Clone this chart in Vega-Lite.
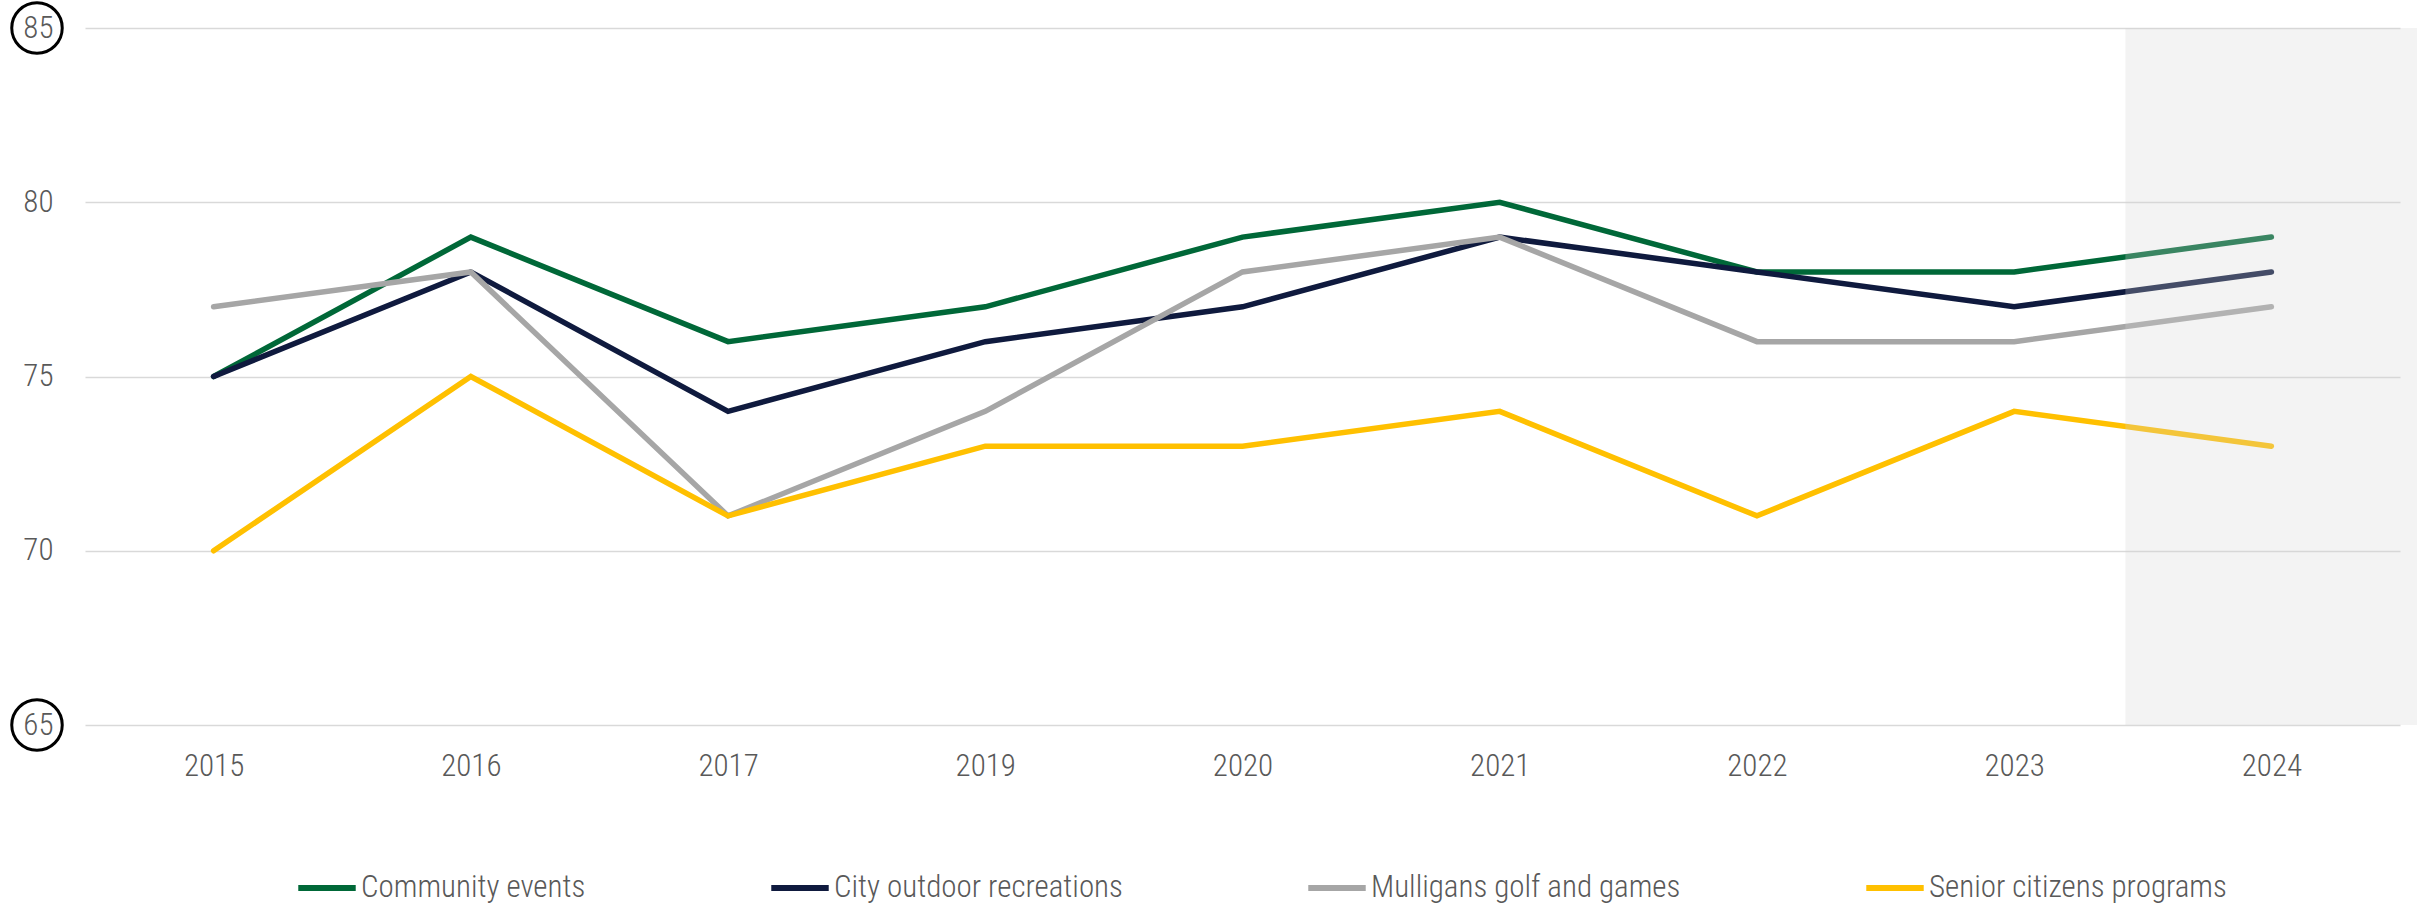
{
  "$schema": "https://vega.github.io/schema/vega-lite/v6.json",
  "autosize": "none",
  "width": 2315,
  "height": 697,
  "padding": {"left": 85, "top": 28, "right": 17, "bottom": 183},
  "background": "white",
  "config": {
    "view": {"stroke": null},
    "font": "'Roboto Condensed', 'Noto Sans Condensed', 'DejaVu Sans Condensed', Roboto, sans-serif",
    "axis": {"labelFont": "'Roboto Condensed', 'Noto Sans Condensed', 'DejaVu Sans Condensed', Roboto, sans-serif", "labelColor": "#595959", "labelFontSize": 31, "labelFontWeight": 300},
    "legend": {"labelFont": "'Roboto Condensed', 'Noto Sans Condensed', 'DejaVu Sans Condensed', Roboto, sans-serif", "labelFontWeight": 300}
  },
  "datasets": {
    "series": [
      {"year": "2015", "series": "Community events", "value": 75},
      {"year": "2016", "series": "Community events", "value": 79},
      {"year": "2017", "series": "Community events", "value": 76},
      {"year": "2019", "series": "Community events", "value": 77},
      {"year": "2020", "series": "Community events", "value": 79},
      {"year": "2021", "series": "Community events", "value": 80},
      {"year": "2022", "series": "Community events", "value": 78},
      {"year": "2023", "series": "Community events", "value": 78},
      {"year": "2024", "series": "Community events", "value": 79},
      {"year": "2015", "series": "City outdoor recreations", "value": 75},
      {"year": "2016", "series": "City outdoor recreations", "value": 78},
      {"year": "2017", "series": "City outdoor recreations", "value": 74},
      {"year": "2019", "series": "City outdoor recreations", "value": 76},
      {"year": "2020", "series": "City outdoor recreations", "value": 77},
      {"year": "2021", "series": "City outdoor recreations", "value": 79},
      {"year": "2022", "series": "City outdoor recreations", "value": 78},
      {"year": "2023", "series": "City outdoor recreations", "value": 77},
      {"year": "2024", "series": "City outdoor recreations", "value": 78},
      {"year": "2015", "series": "Mulligans golf and games", "value": 77},
      {"year": "2016", "series": "Mulligans golf and games", "value": 78},
      {"year": "2017", "series": "Mulligans golf and games", "value": 71},
      {"year": "2019", "series": "Mulligans golf and games", "value": 74},
      {"year": "2020", "series": "Mulligans golf and games", "value": 78},
      {"year": "2021", "series": "Mulligans golf and games", "value": 79},
      {"year": "2022", "series": "Mulligans golf and games", "value": 76},
      {"year": "2023", "series": "Mulligans golf and games", "value": 76},
      {"year": "2024", "series": "Mulligans golf and games", "value": 77},
      {"year": "2015", "series": "Senior citizens programs", "value": 70},
      {"year": "2016", "series": "Senior citizens programs", "value": 75},
      {"year": "2017", "series": "Senior citizens programs", "value": 71},
      {"year": "2019", "series": "Senior citizens programs", "value": 73},
      {"year": "2020", "series": "Senior citizens programs", "value": 73},
      {"year": "2021", "series": "Senior citizens programs", "value": 74},
      {"year": "2022", "series": "Senior citizens programs", "value": 71},
      {"year": "2023", "series": "Senior citizens programs", "value": 74},
      {"year": "2024", "series": "Senior citizens programs", "value": 73}
    ],
    "highlight": [{"year": "2024", "top": 85, "bottom": 65}],
    "circled": [{"tick": 85}, {"tick": 65}]
  },
  "layer": [
    {
      "data": {"name": "series"},
      "mark": {"type": "line", "strokeWidth": 5.5, "strokeCap": "round", "strokeJoin": "miter"},
      "encoding": {
        "x": {
          "field": "year", "type": "ordinal",
          "scale": {"type": "point", "padding": 0.5},
          "axis": {"title": null, "labelAngle": 0, "domain": false, "ticks": false, "grid": false, "labelPadding": 26}
        },
        "y": {
          "field": "value", "type": "quantitative",
          "scale": {"domain": [65, 85], "nice": false, "zero": false},
          "axis": {"title": null, "values": [65, 70, 75, 80, 85], "domain": false, "ticks": false, "grid": true, "gridColor": "#d9d9d9", "gridWidth": 1.5, "labelPadding": 32}
        },
        "color": {
          "field": "series", "type": "nominal",
          "scale": {
            "domain": ["Community events", "City outdoor recreations", "Mulligans golf and games", "Senior citizens programs"],
            "range": ["#006838", "#0f1a3e", "#a6a6a6", "#ffc000"]
          },
          "legend": {
            "title": null, "orient": "none", "direction": "horizontal",
            "legendX": 210, "legendY": 828,
            "symbolType": "stroke", "symbolStrokeWidth": 6, "symbolSize": 3300,
            "labelFontSize": 31, "labelColor": "#595959", "labelOffset": 2, "labelLimit": 2000,
            "columnPadding": 173
          }
        }
      }
    },
    {
      "data": {"name": "highlight"},
      "mark": {"type": "bar", "width": 292, "color": "#d3d3d3", "opacity": 0.275},
      "encoding": {
        "x": {"field": "year", "type": "ordinal"},
        "y": {"field": "top", "type": "quantitative"},
        "y2": {"field": "bottom"}
      }
    },
    {
      "data": {"name": "circled"},
      "mark": {"type": "point", "shape": "circle", "filled": false, "size": 2550, "stroke": "black", "strokeWidth": 3, "opacity": 1},
      "encoding": {
        "y": {"field": "tick", "type": "quantitative"},
        "x": {"value": -48}
      }
    }
  ]
}
